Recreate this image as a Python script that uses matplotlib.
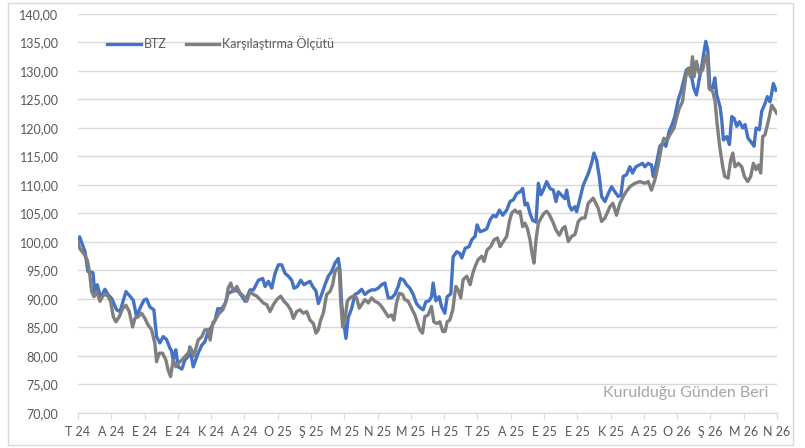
import matplotlib
matplotlib.use("Agg")
import matplotlib.pyplot as plt
import matplotlib.ticker as ticker
from matplotlib.patches import Rectangle

plt.rcParams['font.family'] = ['Lato', 'DejaVu Sans']

# month labels, Temmuz 2024 .. Nisan 2026
months = ["T 24", "A 24", "E 24", "E 24", "K 24", "A 24", "O 25", "Ş 25", "M 25", "N 25", "M 25",
          "H 25", "T 25", "A 25", "E 25", "E 25", "K 25", "A 25", "O 26", "Ş 26", "M 26", "N 26"]

# time in months since start of July 2024, value
btz_t = [0.01, 0.05, 0.21, 0.26, 0.30, 0.45, 0.51, 0.58, 0.68, 0.81, 0.91, 1.01, 1.16, 1.26, 1.34,
         1.44, 1.56, 1.66, 1.76, 1.88, 1.98, 2.06, 2.16, 2.28, 2.36, 2.46, 2.56, 2.66, 2.76, 2.81,
         2.86, 2.94, 3.01, 3.12, 3.21, 3.31, 3.36, 3.46, 3.61, 3.72, 3.81, 3.91, 4.02, 4.12, 4.20,
         4.32, 4.42, 4.51, 4.62, 4.72, 4.82, 4.92, 5.02, 5.17, 5.27, 5.42, 5.55, 5.62, 5.72, 5.82,
         5.92, 6.02, 6.12, 6.22, 6.32, 6.42, 6.49, 6.59, 6.69, 6.79, 6.87, 6.97, 7.05, 7.15, 7.22,
         7.32, 7.42, 7.52, 7.62, 7.72, 7.82, 7.87, 7.92, 7.99, 8.05, 8.12, 8.22, 8.32, 8.42, 8.52,
         8.62, 8.72, 8.82, 8.92, 9.02, 9.12, 9.22, 9.32, 9.42, 9.52, 9.62, 9.69, 9.79, 9.87, 9.97,
         10.07, 10.17, 10.27, 10.37, 10.45, 10.55, 10.62, 10.67, 10.75, 10.85, 10.92, 11.02, 11.09,
         11.20, 11.27, 11.38, 11.47, 11.53, 11.63, 11.75, 11.83, 11.93, 11.99, 12.08, 12.18, 12.28,
         12.38, 12.48, 12.56, 12.66, 12.76, 12.88, 12.98, 13.08, 13.18, 13.28, 13.36, 13.43, 13.50,
         13.58, 13.66, 13.76, 13.83, 13.91, 14.00, 14.08, 14.18, 14.28, 14.36, 14.43, 14.53, 14.63,
         14.68, 14.76, 14.83, 14.93, 14.98, 15.08, 15.18, 15.33, 15.43, 15.50, 15.58, 15.66, 15.73,
         15.83, 15.93, 16.03, 16.13, 16.23, 16.31, 16.38, 16.48, 16.58, 16.66, 16.76, 16.86, 16.96,
         17.03, 17.13, 17.23, 17.28, 17.38, 17.48, 17.58, 17.66, 17.76, 17.86, 17.93, 18.03, 18.13,
         18.20, 18.28, 18.38, 18.43, 18.50, 18.58, 18.66, 18.74, 18.80, 18.86, 18.92, 18.98, 19.07,
         19.13, 19.19, 19.29, 19.34, 19.39, 19.49, 19.57, 19.64, 19.71, 19.79, 19.87, 19.97, 20.04,
         20.13, 20.24, 20.31, 20.37, 20.47, 20.54, 20.64, 20.71, 20.79, 20.84, 20.89, 20.97]
btz_v = [100.3, 100.9, 98.3, 96.3, 94.8, 94.6, 90.7, 92.5, 90.2, 91.7, 90.7, 90.1, 88.1, 87.8, 89.3,
         91.3, 90.5, 89.8, 86.9, 88.6, 89.8, 90.0, 88.6, 88.1, 83.4, 82.3, 83.4, 82.9, 81.4, 80.9,
         79.3, 81.1, 78.1, 77.7, 79.3, 79.9, 81.6, 78.1, 80.5, 81.9, 82.5, 84.3, 85.2, 86.3, 88.3,
         88.3, 89.2, 91.0, 91.3, 91.6, 91.3, 90.5, 89.6, 91.6, 91.6, 93.3, 93.6, 92.2, 93.1, 91.9,
         94.5, 96.0, 96.0, 94.5, 94.0, 93.3, 91.9, 92.2, 93.3, 92.5, 92.8, 93.1, 92.2, 91.4, 89.2,
         90.8, 92.5, 94.0, 94.8, 96.3, 97.1, 95.0, 89.2, 85.6, 83.1, 86.8, 88.3, 90.8, 91.1, 91.7,
         90.8, 91.3, 91.6, 91.6, 91.9, 92.5, 92.8, 90.2, 90.2, 90.8, 92.2, 93.6, 93.3, 92.5, 91.9,
         90.8, 89.2, 88.5, 88.1, 89.5, 89.7, 90.4, 92.8, 89.7, 90.4, 88.7, 87.5, 90.4,
         90.9, 97.4, 98.3, 98.0, 97.2, 98.9, 99.2, 100.4, 101.0, 103.0, 101.8, 102.0, 102.3,
         103.9, 104.7, 104.4, 105.6, 104.7, 105.6, 107.1, 107.4, 108.5, 108.8, 109.4, 106.5, 106.8,
         105.0, 103.8, 103.5, 110.3, 108.3, 109.4, 110.6, 109.4, 109.1, 107.1, 108.8, 108.2, 107.6,
         109.1, 106.4, 105.6, 106.2, 105.3, 107.6, 110.0, 112.0, 113.8, 115.6, 114.4, 111.5, 108.0,
         107.1, 108.5, 109.7, 108.8, 108.0, 108.2, 111.5, 111.8, 113.2, 112.1, 113.2, 113.5, 113.8,
         113.2, 113.8, 113.5, 111.5, 113.8, 116.8, 117.4, 116.8, 119.4, 120.8, 122.0, 124.9, 126.7,
         128.4, 130.2, 130.5, 129.0, 127.0, 125.8, 128.4, 130.8, 133.1, 135.2, 133.7, 127.3, 127.0,
         128.8, 125.8, 123.7, 121.4, 117.9, 118.5, 117.1, 122.0, 121.7, 120.3, 121.1, 120.0, 120.6,
         118.2, 117.4, 116.8, 120.0, 119.7, 122.9, 124.3, 125.5, 124.6, 126.1, 127.8, 126.6]

bench_t = [0.00, 0.06, 0.18, 0.28, 0.34, 0.41, 0.48, 0.56, 0.66, 0.76, 0.88, 0.98, 1.06, 1.14, 1.24,
           1.34, 1.44, 1.54, 1.64, 1.71, 1.81, 1.91, 2.01, 2.11, 2.21, 2.31, 2.36, 2.44, 2.54, 2.64,
           2.71, 2.78, 2.86, 2.94, 3.01, 3.12, 3.21, 3.31, 3.39, 3.48, 3.61, 3.72, 3.81, 3.91, 3.97,
           4.05, 4.15, 4.24, 4.35, 4.45, 4.51, 4.59, 4.67, 4.77, 4.87, 4.97, 5.07, 5.17, 5.27, 5.37,
           5.47, 5.57, 5.67, 5.77, 5.87, 5.97, 6.09, 6.19, 6.29, 6.39, 6.47, 6.57, 6.67, 6.77, 6.87,
           6.97, 7.07, 7.15, 7.22, 7.29, 7.37, 7.47, 7.57, 7.65, 7.72, 7.79, 7.85, 7.89, 7.95, 8.02,
           8.09, 8.17, 8.27, 8.37, 8.45, 8.52, 8.62, 8.72, 8.82, 8.92, 9.02, 9.12, 9.22, 9.32, 9.42,
           9.49, 9.57, 9.65, 9.75, 9.82, 9.92, 10.02, 10.12, 10.22, 10.27, 10.35, 10.42, 10.52, 10.62,
           10.69, 10.78, 10.87, 10.96, 11.03, 11.09, 11.17, 11.26, 11.35, 11.42, 11.50, 11.57, 11.68,
           11.78, 11.86, 11.93, 12.02, 12.13, 12.20, 12.29, 12.40, 12.50, 12.60, 12.68, 12.78, 12.88,
           12.96, 13.03, 13.13, 13.21, 13.28, 13.36, 13.43, 13.50, 13.58, 13.64, 13.70, 13.76, 13.83,
           13.91, 14.01, 14.08, 14.16, 14.26, 14.36, 14.46, 14.56, 14.63, 14.73, 14.83, 14.93, 15.03,
           15.13, 15.23, 15.33, 15.48, 15.63, 15.73, 15.83, 15.98, 16.07, 16.18, 16.28, 16.43, 16.58,
           16.73, 16.88, 17.03, 17.13, 17.23, 17.33, 17.43, 17.53, 17.60, 17.70, 17.80, 17.90, 17.98,
           18.06, 18.16, 18.26, 18.33, 18.40, 18.46, 18.51, 18.58, 18.66, 18.77, 18.83, 18.90, 18.96,
           19.07, 19.14, 19.20, 19.28, 19.37, 19.43, 19.53, 19.61, 19.67, 19.74, 19.84, 19.94, 20.02,
           20.12, 20.21, 20.29, 20.37, 20.44, 20.51, 20.57, 20.64, 20.71, 20.77, 20.84, 20.91, 20.99]
bench_v = [100.0, 98.8, 97.9, 96.8, 95.0, 91.3, 90.4, 91.3, 89.6, 90.7, 90.7, 89.6, 86.9, 86.0, 86.9,
           88.3, 88.9, 87.8, 85.1, 86.6, 86.9, 87.5, 86.6, 85.4, 84.6, 82.2, 79.0, 80.5, 80.5, 79.3,
           77.5, 76.4, 79.3, 78.1, 78.7, 79.3, 79.9, 80.5, 81.4, 80.0, 82.8, 83.4, 84.6, 84.6, 82.8,
           85.8, 86.6, 87.5, 88.1, 89.6, 91.9, 92.8, 91.3, 92.2, 91.0, 90.5, 89.6, 91.3, 90.8, 90.5,
           89.9, 89.3, 89.0, 87.8, 89.0, 89.9, 90.5, 89.6, 89.0, 88.1, 86.6, 87.8, 88.1, 87.5, 87.8,
           86.3, 85.7, 84.0, 84.6, 86.3, 87.5, 90.8, 91.3, 92.5, 94.8, 95.4, 95.0, 89.8, 85.1, 86.3,
           89.6, 90.2, 90.5, 90.2, 88.4, 89.0, 89.9, 89.3, 90.2, 89.6, 89.3, 88.7, 87.8, 86.9, 87.2,
           86.3, 89.3, 91.0, 90.8, 89.9, 89.6, 88.4, 87.2, 85.5, 84.6, 84.0, 86.9, 87.2, 88.7,
           86.0, 85.7, 86.0, 84.3, 84.3, 86.0, 86.3, 88.1, 92.2, 91.6, 90.2, 93.4, 94.0,
           92.5, 94.5, 95.7, 96.9, 97.5, 96.6, 98.6, 99.2, 100.4, 100.7, 99.2, 100.1, 101.0,
           103.6, 105.1, 105.6, 105.1, 105.4, 102.7, 103.3, 102.4, 100.4, 98.0, 96.3, 100.4, 103.3,
           104.2, 105.1, 105.4, 104.8, 103.6, 102.1, 101.2, 102.4, 102.7, 100.1, 101.0, 101.3, 103.6,
           104.2, 104.2, 106.8, 107.7, 105.9, 103.6, 104.2, 106.2, 106.8, 104.7, 106.8, 108.5, 109.7,
           110.3, 110.6, 110.3, 110.6, 109.1, 110.9, 113.5, 116.7, 118.2, 117.9, 119.0, 119.9, 121.7,
           123.4, 124.6, 129.0, 130.5, 129.0, 132.5, 129.0, 131.7, 129.6, 130.2, 132.2, 132.8, 126.9,
           126.4, 124.6, 120.8, 116.7, 113.2, 111.5, 111.2, 114.4, 115.6, 113.2, 113.8, 113.2, 111.5,
           110.6, 111.5, 113.8, 112.7, 113.5, 112.1, 118.5, 118.8, 120.5, 122.0, 124.0, 123.4, 122.6]

grid_c = '#D9D9D9'
text_c = '#595959'

fig = plt.figure(figsize=(8.05, 4.48), dpi=100)
ax = fig.add_axes([78/805, 35/448, 699/805, 399/448])

ax.plot(btz_t, btz_v, color='#4472C4', lw=2.4, solid_joinstyle='round', label='BTZ')
ax.plot(bench_t, bench_v, color='#7F7F7F', lw=2.4, solid_joinstyle='round',
        label='Karşılaştırma Ölçütü')

ax.set_xlim(0, 21)
ax.set_ylim(70, 140)
ax.set_yticks(range(70, 141, 5))
ax.yaxis.set_major_formatter(ticker.FuncFormatter(lambda v, p: f"{v:.2f}".replace('.', ',')))
ax.set_xticks(range(len(months)))
ax.set_xticklabels(months)

ax.grid(axis='y', color=grid_c, lw=1)
ax.set_axisbelow(True)
for s in ['top', 'right', 'left']:
    ax.spines[s].set_visible(False)
ax.spines['bottom'].set_color(grid_c)
ax.tick_params(axis='y', length=0, pad=14, labelcolor=text_c, labelsize=9)
ax.tick_params(axis='x', length=4, color=grid_c, pad=5, labelcolor=text_c, labelsize=9)

fig.legend(loc='center left', bbox_to_anchor=(107/805, 1 - 43/448), ncol=2, frameon=False,
           borderpad=0, borderaxespad=0, handlelength=2.7, handletextpad=0.25,
           columnspacing=1.5, fontsize=9, labelcolor=text_c)

fig.text(603/805, 1 - 393/448, "Kurulduğu Günden Beri", ha='left', va='center',
         color='#A6A6A6', fontsize=11.5)

fig.patches.append(Rectangle((8/805, 3/448), 785/805, 442/448, transform=fig.transFigure,
                             fill=False, ec=grid_c, lw=1))

fig.savefig('out.png', dpi=100)
